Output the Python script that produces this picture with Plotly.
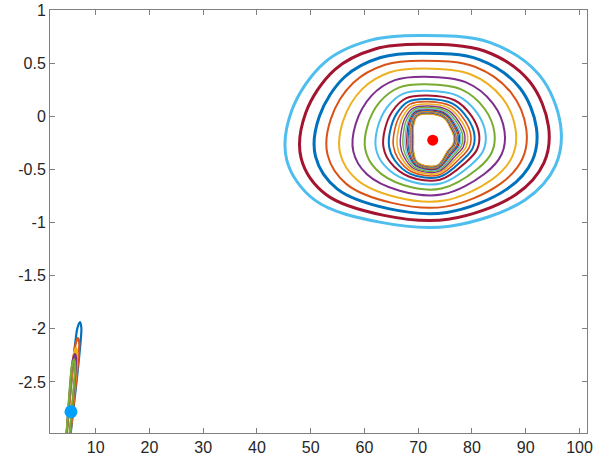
import plotly.graph_objects as go

# MATLAB default colour order
C_BLUE, C_ORANGE, C_YELLOW, C_PURPLE, C_GREEN, C_LBLUE, C_DRED = (
    "#0072BD", "#D95319", "#EDB120", "#7E2F8E", "#77AC30", "#4DBEEE", "#A2142F")

# Outermost orbit (control points, clockwise from top)
OUTER_X = [70.28, 83.29, 92.58, 96.49, 95.55, 89.80, 75.86, 62.84, 50.76, 45.56, 46.49, 52.62, 60.98]
OUTER_Y = [0.761, 0.695, 0.385, -0.085, -0.461, -0.789, -1.034, -0.996, -0.789, -0.414, 0.056, 0.508, 0.714]
# Innermost (limit) orbit, matching control points
INNER_X = [72.14, 74.74, 76.04, 76.60, 76.41, 75.48, 73.44, 69.91, 69.16, 69.16, 69.16, 69.16, 69.91]
INNER_Y = [0.019, -0.019, -0.122, -0.197, -0.263, -0.320, -0.461, -0.432, -0.320, -0.254, -0.188, -0.094, 0.0]

# Relative size of each orbit (1 = outermost, 0 = limit orbit), outside -> in
RING_T = [1.0, 0.887, 0.774, 0.679, 0.58, 0.476, 0.381, 0.298, 0.238, 0.194,
          0.16, 0.13, 0.105, 0.085, 0.068, 0.055, 0.044, 0.035, 0.028, 0.022,
          0.017, 0.013, 0.009, 0.006, 0.003, 0.0]
RING_COLORS = [C_LBLUE, C_DRED, C_BLUE, C_ORANGE, C_YELLOW, C_PURPLE, C_GREEN]
RING_WIDTH = [3, 3, 3, 2, 2, 2, 2, 2, 2, 2, 1.6, 1.6, 1.4, 1.4, 1.2, 1.2, 1.2,
              1, 1, 1, 1, 1, 1, 1, 1, 1]

# Small loops near the start point (top of each loop, outside -> in)
LOOP_TOP_X = [7.08, 6.71, 6.34, 6.15, 5.97]
LOOP_TOP_Y = [-1.936, -2.086, -2.18, -2.237, -2.29]
LOOP_HALF_W = [0.5, 0.45, 0.4, 0.38, 0.36]
LOOP_COLORS = [C_BLUE, C_ORANGE, C_YELLOW, C_PURPLE, C_GREEN]
LOOP_BOTTOM = (4.48, -3.23)

START_PT = (5.4, -2.78)
EQUIL_PT = (72.7, -0.225)

fig = go.Figure()

for i, t in enumerate(RING_T):
    xs = [a + t * (b - a) for a, b in zip(INNER_X, OUTER_X)]
    ys = [a + t * (b - a) for a, b in zip(INNER_Y, OUTER_Y)]
    xs.append(xs[0]); ys.append(ys[0])
    fig.add_trace(go.Scatter(x=xs, y=ys, mode="lines",
                             line=dict(color=RING_COLORS[i % 7], width=RING_WIDTH[i],
                                       shape="spline", smoothing=1.0, simplify=False),
                             hoverinfo="skip", showlegend=False))

S_PROF = [0.0, 0.04, 0.12, 0.3, 0.55, 0.8, 1.0]
W_PROF = [0.0, 0.7, 0.95, 1.0, 0.9, 0.75, 0.6]
for tx, ty, hw, col in zip(LOOP_TOP_X, LOOP_TOP_Y, LOOP_HALF_W, LOOP_COLORS):
    bx, by = LOOP_BOTTOM
    right = [(tx + s * (bx - tx) + w * hw, ty + s * (by - ty)) for s, w in zip(S_PROF, W_PROF)]
    left = [(tx + s * (bx - tx) - w * hw, ty + s * (by - ty)) for s, w in zip(S_PROF, W_PROF)]
    pts = right + left[::-1][:-1]
    xs = [p[0] for p in pts] + [pts[0][0]]
    ys = [p[1] for p in pts] + [pts[0][1]]
    fig.add_trace(go.Scatter(x=xs, y=ys, mode="lines",
                             line=dict(color=col, width=2.2, shape="spline", simplify=False),
                             hoverinfo="skip", showlegend=False))

fig.add_trace(go.Scatter(x=[START_PT[0]], y=[START_PT[1]], mode="markers",
                         marker=dict(color="#00A0FF", size=13), showlegend=False))
fig.add_trace(go.Scatter(x=[EQUIL_PT[0]], y=[EQUIL_PT[1]], mode="markers",
                         marker=dict(color="#FF0000", size=11), showlegend=False))

axis_common = dict(showline=True, linecolor="#808080", linewidth=1, mirror="ticks",
                   ticks="inside", ticklen=5, tickcolor="#808080", showgrid=False,
                   zeroline=False, automargin=False,
                   tickfont=dict(family="Liberation Sans, Arial", size=16, color="#262626"))
fig.update_xaxes(range=[1.5, 101.4], tickvals=[10, 20, 30, 40, 50, 60, 70, 80, 90, 100],
                 **axis_common)
fig.update_yaxes(range=[-2.98, 1.0], tickvals=[1, 0.5, 0, -0.5, -1, -1.5, -2, -2.5],
                 ticktext=["1", "0.5", "0", "-0.5", "-1", "-1.5", "-2", "-2.5"],
                 **axis_common)
fig.update_layout(width=600, height=467, margin=dict(l=50, r=13, t=10, b=34),
                  plot_bgcolor="white", paper_bgcolor="white")
fig.write_html("out.html")
